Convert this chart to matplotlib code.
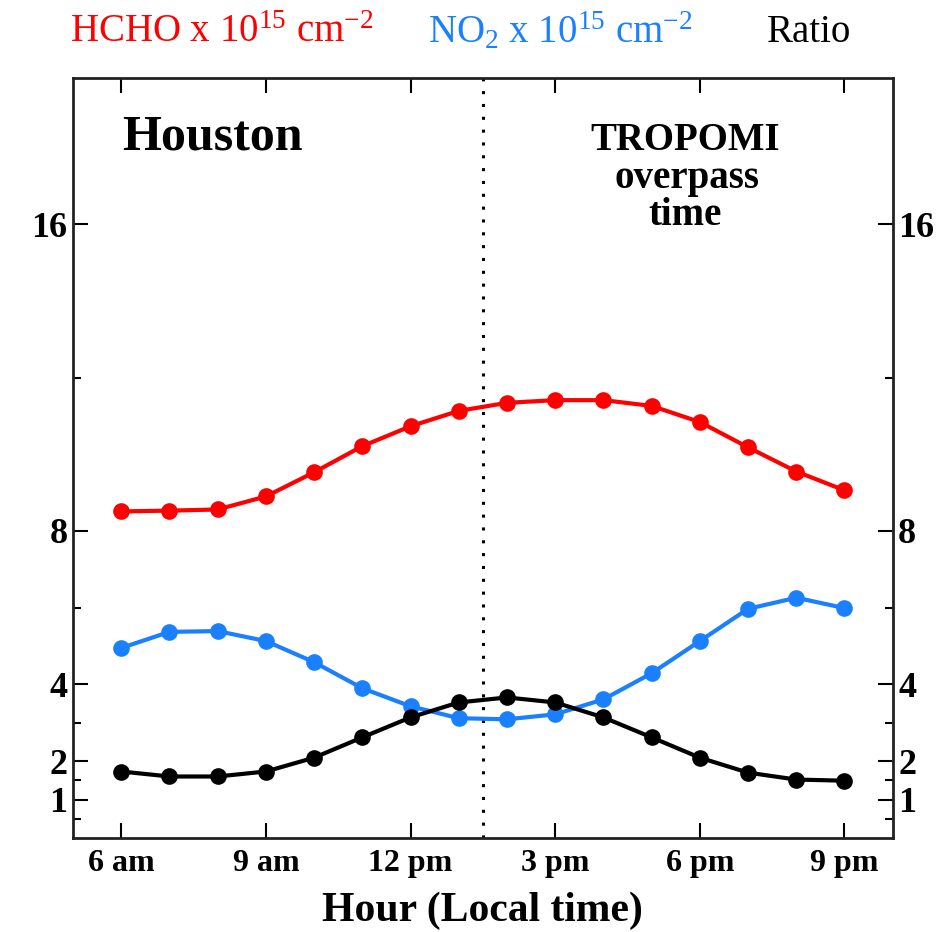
import matplotlib
matplotlib.use("Agg")
import matplotlib.pyplot as plt

plt.rcParams['font.family'] = ['Liberation Serif', 'DejaVu Serif']
plt.rcParams['mathtext.fontset'] = 'custom'
plt.rcParams['mathtext.rm'] = 'Liberation Serif'
plt.rcParams['mathtext.it'] = 'Liberation Serif:italic'
plt.rcParams['mathtext.bf'] = 'Liberation Serif:bold'

hours = [6, 7, 8, 9, 10, 11, 12, 13, 14, 15, 16, 17, 18, 19, 20, 21]
hcho = [8.51, 8.53, 8.56, 8.90, 9.53, 10.21, 10.73, 11.13, 11.34, 11.41, 11.41, 11.26, 10.84, 10.18, 9.55, 9.06]
no2 = [4.95, 5.37, 5.39, 5.13, 4.58, 3.90, 3.43, 3.12, 3.09, 3.22, 3.61, 4.29, 5.13, 5.97, 6.26, 5.99]
ratio = [1.73, 1.60, 1.60, 1.73, 2.09, 2.62, 3.14, 3.53, 3.66, 3.53, 3.14, 2.62, 2.09, 1.70, 1.52, 1.49]

xticks = [6, 9, 12, 15, 18, 21]
xticklabels = ['6 am', '9 am', '12 pm', '3 pm', '6 pm', '9 pm']
yticks = [1, 2, 4, 8, 16]
yticklabels = ['1', '2', '4', '8', '16']
yminor = [0.5, 1.5, 3, 6, 12]
overpass = 13.5

RED = '#ff0000'
BLUE = '#1a80ff'
BLACK = '#000000'

W, H = 952, 932
fig = plt.figure(figsize=(W / 100, H / 100), dpi=100)
ax = fig.add_axes([0.0767, 0.101, 0.861, 0.815])

ax.axvline(overpass, color='black', lw=2.2, linestyle=(0, (1, 3.2)), zorder=1)

for vals, c in [(hcho, RED), (no2, BLUE), (ratio, BLACK)]:
    ax.plot(hours, vals, color=c, lw=3.0, marker='o', markersize=12,
            markeredgewidth=0, zorder=3, clip_on=False)

ax.set_xlim(5, 22)
ax.set_ylim(0, 19.8)

ax.set_xticks(xticks)
ax.set_xticklabels(xticklabels, fontsize=23, fontweight='bold')
ax.set_yticks(yticks)
ax.set_yticklabels(yticklabels, fontsize=26, fontweight='bold')
ax.set_yticks(yminor, minor=True)

ax.tick_params(axis='both', which='major', direction='in', length=11, width=1.5,
               top=True, right=True, labelright=True)
ax.tick_params(axis='y', which='major', pad=8)
ax.tick_params(axis='y', which='minor', direction='in', length=6, width=1.5,
               left=True, right=True)
ax.tick_params(axis='x', which='major', pad=8)
for t in ax.yaxis.get_major_ticks():
    t.label2.set_fontsize(26)
    t.label2.set_fontweight('bold')
    t.set_pad(4)

for sp in ax.spines.values():
    sp.set_linewidth(2)
    sp.set_color('#222222')

ax.set_xlabel('Hour (Local time)', fontsize=30, fontweight='bold', labelpad=10)

fig.text(122 / W, 1 - 150 / H, 'Houston', fontsize=36, fontweight='bold',
         ha='left', va='baseline')
fig.text(685 / W, 1 - 150 / H, 'TROPOMI', fontsize=28, fontweight='bold',
         ha='center', va='baseline')
fig.text(687 / W, 1 - 188 / H, 'overpass', fontsize=28, fontweight='bold',
         ha='center', va='baseline')
fig.text(685 / W, 1 - 225 / H, 'time', fontsize=28, fontweight='bold',
         ha='center', va='baseline')

fig.text(222 / W, 1 - 32 / H, r'HCHO x 10$^{15}$ cm$^{-2}$', color=RED,
         fontsize=28, ha='center', va='center')
fig.text(560 / W, 1 - 32 / H, r'NO$_2$ x 10$^{15}$ cm$^{-2}$', color=BLUE,
         fontsize=28, ha='center', va='center')
fig.text(809 / W, 1 - 32 / H, 'Ratio', color=BLACK,
         fontsize=28, ha='center', va='center')

fig.savefig('out.png', dpi=100)
